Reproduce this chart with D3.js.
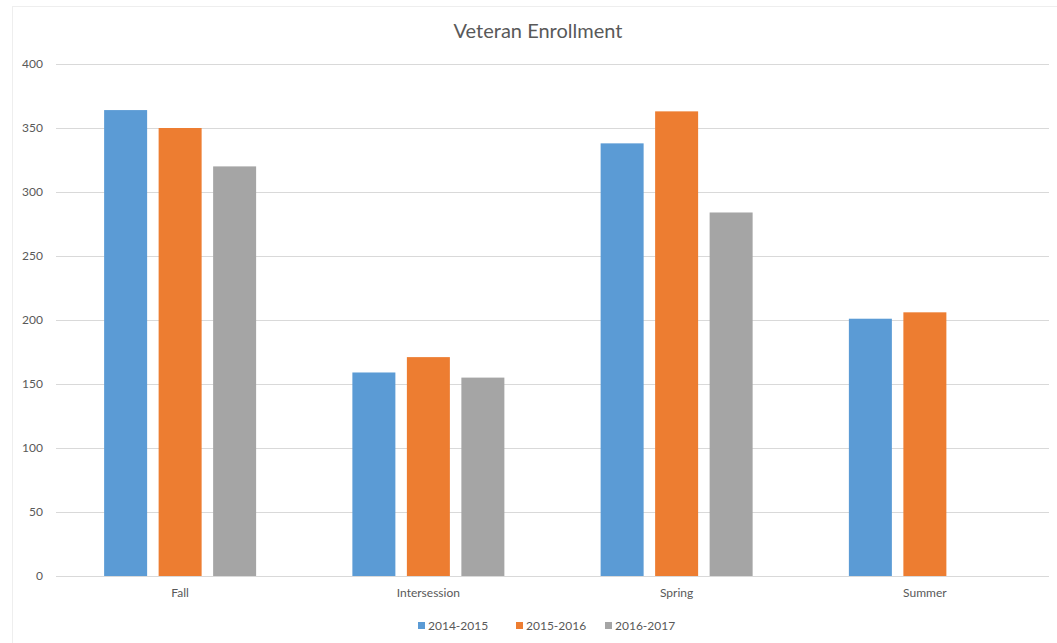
<!DOCTYPE html>
<html>
<head>
<meta charset="utf-8">
<script src="https://cdn.jsdelivr.net/npm/d3@7"></script>
<style>
  html, body { margin: 0; padding: 0; background: #fff; }
  svg { display: block; font-family: "Lato", "Open Sans", sans-serif; }
</style>
</head>
<body>
<svg id="chart" width="1057" height="643"></svg>
<script>
// Terms and academic years
const categories = ["Fall", "Intersession", "Spring", "Summer"];
const seriesNames = ["2014-2015", "2015-2016", "2016-2017"];
const values2014 = [364, 159, 338, 201];
const values2015 = [350, 171, 363, 206];
const values2016 = [320, 155, 284, null];
const yTicks = [0, 50, 100, 150, 200, 250, 300, 350, 400];
const colors = ["#5b9bd5", "#ed7d31", "#a5a5a5"];

const seriesValues = [values2014, values2015, values2016];

const svg = d3.select("#chart");
const W = 1057, H = 643;
const margin = { left: 56, right: 8, top: 64, bottom: 67 };
const plotRight = W - margin.right;
const plotBottom = H - margin.bottom;

// outer chart frame
svg.append("rect")
  .attr("x", 12.5).attr("y", 6.5)
  .attr("width", W - 12).attr("height", H - 6)
  .attr("fill", "#fff").attr("stroke", "#eeeeee");

const y = d3.scaleLinear().domain([0, 400]).range([plotBottom, margin.top]);
const x0 = d3.scaleBand().domain(categories).range([margin.left, plotRight]).padding(0);
const x1 = d3.scaleBand().domain(seriesNames).range([0, x0.bandwidth()])
  .paddingInner(0.211).paddingOuter(0.883);

// gridlines
svg.append("g").selectAll("line").data(yTicks).join("line")
  .attr("x1", margin.left).attr("x2", plotRight)
  .attr("y1", d => Math.round(y(d)) + 0.5).attr("y2", d => Math.round(y(d)) + 0.5)
  .attr("stroke", "#d9d9d9").attr("stroke-width", 1);

// y axis labels
svg.append("g").selectAll("text").data(yTicks).join("text")
  .attr("x", 43).attr("y", d => y(d))
  .attr("dy", "0.35em").attr("text-anchor", "end")
  .attr("font-size", 12).attr("fill", "#595959")
  .text(d => d);

// bars
const rows = [];
categories.forEach((c, i) => {
  seriesNames.forEach((s, j) => {
    const v = seriesValues[j][i];
    if (v != null) rows.push({ c, s, v, j });
  });
});
svg.append("g").selectAll("rect").data(rows).join("rect")
  .attr("x", d => x0(d.c) + x1(d.s))
  .attr("y", d => y(d.v))
  .attr("width", x1.bandwidth())
  .attr("height", d => y(0) - y(d.v))
  .attr("fill", d => colors[d.j]);

// category labels
svg.append("g").selectAll("text").data(categories).join("text")
  .attr("x", d => x0(d) + x0.bandwidth() / 2)
  .attr("y", 597)
  .attr("text-anchor", "middle")
  .attr("font-size", 12).attr("fill", "#595959")
  .text(d => d);

// title
svg.append("text")
  .attr("x", 538).attr("y", 38)
  .attr("text-anchor", "middle")
  .attr("font-size", 20).attr("fill", "#595959")
  .text("Veteran Enrollment");

// legend
const legendX = [418, 516, 605];
const legend = svg.append("g").selectAll("g").data(seriesNames).join("g")
  .attr("transform", (d, i) => `translate(${legendX[i]},626)`);
legend.append("rect")
  .attr("x", 0).attr("y", -4).attr("width", 7).attr("height", 7)
  .attr("fill", (d, i) => colors[i]);
legend.append("text")
  .attr("x", 10).attr("y", 0).attr("dy", "0.35em")
  .attr("font-size", 12).attr("fill", "#595959")
  .text(d => d);
</script>
</body>
</html>
